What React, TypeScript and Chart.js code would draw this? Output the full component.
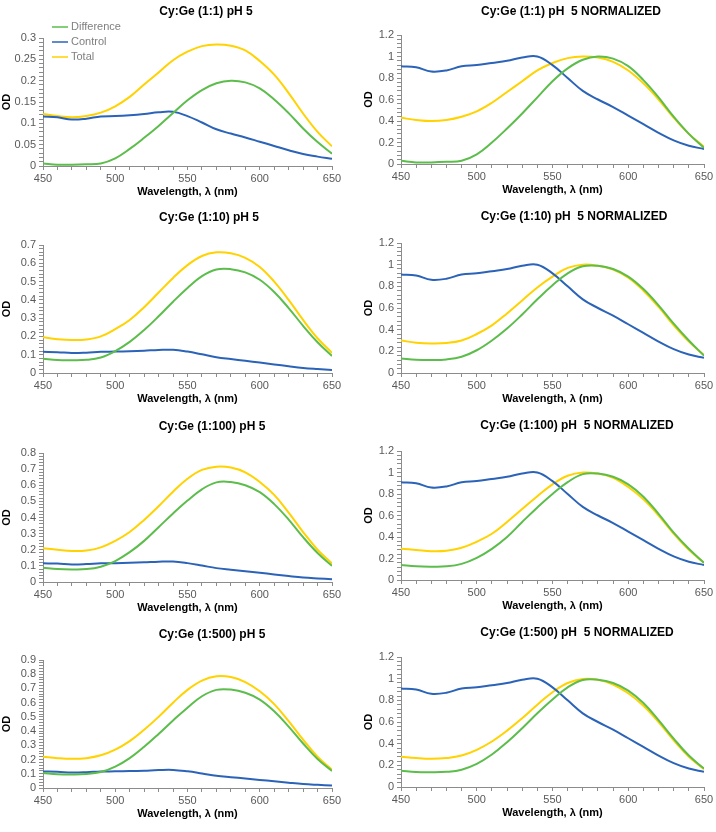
import React, { useEffect, useRef } from "react";
import { Chart, registerables } from "chart.js";

Chart.register(...registerables);

// ---------- data ----------
const wavelengths = [450, 460, 470, 480, 490, 500, 510, 520, 530, 540, 550, 560, 570, 580, 590, 600, 610, 620, 630, 640, 650];

const controlRaw = [0.116, 0.114, 0.109, 0.111, 0.116, 0.117, 0.119, 0.122, 0.126, 0.127, 0.117, 0.102, 0.086, 0.076, 0.067, 0.057, 0.047, 0.037, 0.028, 0.022, 0.017];
const controlNorm = [0.91, 0.90, 0.86, 0.87, 0.91, 0.92, 0.94, 0.96, 0.99, 1.0, 0.92, 0.80, 0.68, 0.60, 0.53, 0.45, 0.37, 0.29, 0.22, 0.17, 0.14];

const diff1 = [0.006, 0.003, 0.003, 0.004, 0.006, 0.018, 0.040, 0.066, 0.094, 0.124, 0.154, 0.178, 0.194, 0.200, 0.196, 0.182, 0.156, 0.124, 0.088, 0.056, 0.029];
const total1 = [0.122, 0.117, 0.114, 0.117, 0.125, 0.140, 0.162, 0.191, 0.219, 0.248, 0.268, 0.281, 0.285, 0.282, 0.271, 0.246, 0.214, 0.171, 0.123, 0.080, 0.046];
const diff1Norm = [0.03, 0.015, 0.015, 0.02, 0.03, 0.09, 0.20, 0.33, 0.47, 0.62, 0.77, 0.89, 0.97, 1.0, 0.98, 0.91, 0.78, 0.62, 0.44, 0.28, 0.15];
const total1Norm = [0.43, 0.41, 0.40, 0.41, 0.44, 0.49, 0.57, 0.67, 0.77, 0.87, 0.94, 0.985, 1.0, 0.99, 0.95, 0.87, 0.75, 0.60, 0.43, 0.28, 0.16];

const diff10 = [0.078, 0.071, 0.07, 0.072, 0.085, 0.12, 0.17, 0.235, 0.31, 0.39, 0.465, 0.53, 0.566, 0.568, 0.55, 0.51, 0.443, 0.355, 0.258, 0.168, 0.093];
const total10 = [0.195, 0.185, 0.18, 0.183, 0.20, 0.24, 0.29, 0.36, 0.44, 0.52, 0.59, 0.64, 0.66, 0.655, 0.63, 0.58, 0.50, 0.40, 0.29, 0.19, 0.11];
const diff10Norm = [0.135, 0.123, 0.12, 0.125, 0.15, 0.21, 0.30, 0.41, 0.54, 0.68, 0.81, 0.92, 0.985, 0.99, 0.96, 0.89, 0.775, 0.625, 0.455, 0.30, 0.16];
const total10Norm = [0.30, 0.28, 0.273, 0.277, 0.30, 0.36, 0.44, 0.55, 0.67, 0.79, 0.89, 0.97, 1.0, 0.99, 0.955, 0.88, 0.76, 0.61, 0.44, 0.29, 0.165];

const diff100 = [0.088, 0.08, 0.078, 0.08, 0.095, 0.13, 0.185, 0.255, 0.34, 0.425, 0.505, 0.575, 0.618, 0.62, 0.6, 0.557, 0.483, 0.387, 0.278, 0.18, 0.10];
const total100 = [0.21, 0.20, 0.192, 0.195, 0.215, 0.255, 0.31, 0.385, 0.47, 0.56, 0.64, 0.695, 0.715, 0.71, 0.68, 0.62, 0.54, 0.43, 0.31, 0.20, 0.115];
const diff100Norm = [0.14, 0.127, 0.124, 0.127, 0.15, 0.206, 0.29, 0.40, 0.54, 0.675, 0.80, 0.91, 0.985, 0.99, 0.96, 0.89, 0.775, 0.615, 0.44, 0.29, 0.16];
const total100Norm = [0.29, 0.28, 0.268, 0.272, 0.30, 0.356, 0.43, 0.54, 0.66, 0.78, 0.89, 0.97, 1.0, 0.99, 0.95, 0.865, 0.75, 0.60, 0.43, 0.28, 0.16];

const diff500 = [0.105, 0.097, 0.095, 0.098, 0.112, 0.15, 0.21, 0.29, 0.38, 0.475, 0.565, 0.645, 0.69, 0.692, 0.67, 0.622, 0.54, 0.432, 0.313, 0.204, 0.12];
const total500 = [0.22, 0.21, 0.205, 0.21, 0.23, 0.27, 0.33, 0.41, 0.50, 0.60, 0.69, 0.755, 0.785, 0.78, 0.745, 0.68, 0.59, 0.47, 0.34, 0.22, 0.13];
const diff500Norm = [0.15, 0.138, 0.136, 0.14, 0.16, 0.214, 0.30, 0.414, 0.543, 0.68, 0.807, 0.92, 0.988, 0.99, 0.96, 0.89, 0.775, 0.617, 0.447, 0.29, 0.17];
const total500Norm = [0.28, 0.267, 0.26, 0.267, 0.29, 0.343, 0.42, 0.52, 0.635, 0.76, 0.875, 0.96, 0.997, 0.99, 0.946, 0.865, 0.75, 0.60, 0.43, 0.28, 0.165];

const seriesNames = ["Difference", "Control", "Total"];
const seriesColors = ["#5cbd4c", "#2b63b8", "#ffd200"];

const FONT = "'Liberation Sans', Arial, sans-serif";

type Panel = {
  title: string;
  series: number[][];
  yMax: number;
  yStep: number;
  left: number;
  top: number;
  width: number;
  height: number;
  plotTop: number;
  plotBottom: number;
  plotRight: number;
  yAxisW: number;
  ytitlePad: number;
  titleX: number;
  titleY: number;
  legend?: boolean;
};

const L = { left: 0, width: 356, plotRight: 332, yAxisW: 43, ytitlePad: 0 };
const R = { left: 356, width: 360, plotRight: 348, yAxisW: 45, ytitlePad: 6 };

// titleX / titleY in page coordinates
const panels: Panel[] = [
  { ...L, title: "Cy:Ge (1:1) pH 5", series: [diff1, controlRaw, total1], yMax: 0.3, yStep: 0.05, top: 0, height: 205, plotTop: 38, plotBottom: 166, titleX: 206, titleY: 12, legend: true },
  { ...R, title: "Cy:Ge (1:1) pH  5 NORMALIZED", series: [diff1Norm, controlNorm, total1Norm], yMax: 1.2, yStep: 0.2, top: 0, height: 205, plotTop: 35, plotBottom: 164, titleX: 571, titleY: 12 },
  { ...L, title: "Cy:Ge (1:10) pH 5", series: [diff10, controlRaw, total10], yMax: 0.7, yStep: 0.1, top: 205, height: 208, plotTop: 245, plotBottom: 373, titleX: 209, titleY: 218 },
  { ...R, title: "Cy:Ge (1:10) pH  5 NORMALIZED", series: [diff10Norm, controlNorm, total10Norm], yMax: 1.2, yStep: 0.2, top: 205, height: 208, plotTop: 243, plotBottom: 373, titleX: 574, titleY: 217 },
  { ...L, title: "Cy:Ge (1:100) pH 5", series: [diff100, controlRaw, total100], yMax: 0.8, yStep: 0.1, top: 413, height: 207, plotTop: 453, plotBottom: 582, titleX: 212, titleY: 427 },
  { ...R, title: "Cy:Ge (1:100) pH  5 NORMALIZED", series: [diff100Norm, controlNorm, total100Norm], yMax: 1.2, yStep: 0.2, top: 413, height: 207, plotTop: 451, plotBottom: 580, titleX: 577, titleY: 426 },
  { ...L, title: "Cy:Ge (1:500) pH 5", series: [diff500, controlRaw, total500], yMax: 0.9, yStep: 0.1, top: 620, height: 212, plotTop: 660, plotBottom: 788, titleX: 212, titleY: 635 },
  { ...R, title: "Cy:Ge (1:500) pH  5 NORMALIZED", series: [diff500Norm, controlNorm, total500Norm], yMax: 1.2, yStep: 0.2, top: 620, height: 212, plotTop: 657, plotBottom: 787, titleX: 577, titleY: 633 },
];

const X_AXIS_H = 33;

const titlePlugin = {
  id: "panelTitle",
  afterDraw(chart: any, _args: any, opts: any) {
    if (!opts || !opts.text) return;
    const ctx = chart.ctx;
    ctx.save();
    ctx.font = `bold 12px ${FONT}`;
    ctx.fillStyle = "#000000";
    ctx.textAlign = "center";
    ctx.textBaseline = "middle";
    ctx.fillText(opts.text, opts.x, opts.y);
    ctx.restore();
  },
};

const legendPlugin = {
  id: "refLegend",
  afterDraw(chart: any, _args: any, opts: any) {
    if (!opts || !opts.show) return;
    const ctx = chart.ctx;
    ctx.save();
    ctx.font = `11px ${FONT}`;
    ctx.textBaseline = "middle";
    ctx.textAlign = "left";
    chart.data.datasets.forEach((ds: any, i: number) => {
      const y = opts.y0 + i * opts.dy;
      ctx.strokeStyle = ds.borderColor;
      ctx.lineWidth = 1.5;
      ctx.beginPath();
      ctx.moveTo(opts.x0, y);
      ctx.lineTo(opts.x0 + 16, y);
      ctx.stroke();
      ctx.fillStyle = "#7f7f7f";
      ctx.fillText(ds.label, opts.x0 + 19, y);
    });
    ctx.restore();
  },
};

function isMajor(v: number, step: number) {
  const r = v / step;
  return Math.abs(r - Math.round(r)) < 1e-6;
}

function PanelChart({ p }: { p: Panel }) {
  const ref = useRef<HTMLCanvasElement | null>(null);
  useEffect(() => {
    if (!ref.current) return;
    const padTop = p.plotTop - p.top;
    const padBottom = p.height - (p.plotBottom - p.top) - X_AXIS_H;
    const chart = new Chart(ref.current, {
      type: "line",
      data: {
        datasets: p.series.map((vals, i) => ({
          label: seriesNames[i],
          data: wavelengths.map((w, j) => ({ x: w, y: vals[j] })),
          borderColor: seriesColors[i],
          backgroundColor: seriesColors[i],
          borderWidth: 2,
          pointRadius: 0,
          fill: false,
          tension: 0.4,
        })),
      },
      options: {
        responsive: false,
        animation: false,
        events: [],
        layout: { padding: { left: 0, right: p.width - p.plotRight, top: padTop, bottom: padBottom } },
        plugins: {
          legend: { display: false },
          tooltip: { enabled: false },
          title: { display: false },
          panelTitle: { text: p.title, x: p.titleX - p.left, y: p.titleY - p.top },
          refLegend: { show: !!p.legend, x0: 52, y0: 27, dy: 15 },
        } as any,
        scales: {
          x: {
            type: "linear",
            min: 450,
            max: 650,
            afterFit: (s: any) => { s.height = X_AXIS_H; },
            ticks: {
              stepSize: 10,
              autoSkip: false,
              maxRotation: 0,
              padding: 2,
              color: "#595959",
              font: { family: FONT, size: 11 },
              callback: (v: any) => (isMajor(Number(v), 50) ? String(Math.round(v)) : ""),
            },
            grid: { drawOnChartArea: false, drawTicks: true, tickLength: 4, tickColor: "#8c8c8c" },
            border: { display: true, color: "#8c8c8c", width: 1 },
            title: {
              display: true,
              text: "Wavelength, λ (nm)",
              color: "#000000",
              font: { family: FONT, size: 11, weight: "bold" },
              padding: { top: 0, bottom: 0 },
            },
          },
          y: {
            type: "linear",
            min: 0,
            max: p.yMax,
            afterFit: (s: any) => { s.width = p.yAxisW; },
            ticks: {
              stepSize: p.yStep / 5,
              autoSkip: false,
              padding: 3,
              color: "#595959",
              font: { family: FONT, size: 11 },
              callback: (v: any) => (isMajor(Number(v), p.yStep) ? String(parseFloat(Number(v).toFixed(2))) : ""),
            },
            grid: { drawOnChartArea: false, drawTicks: true, tickLength: 4, tickColor: "#8c8c8c" },
            border: { display: true, color: "#8c8c8c", width: 1 },
            title: {
              display: true,
              text: "OD",
              color: "#000000",
              font: { family: FONT, size: 11, weight: "bold" },
              padding: { top: p.ytitlePad, bottom: 0 },
            },
          },
        },
      },
      plugins: [titlePlugin, legendPlugin],
    });
    return () => chart.destroy();
  }, [p]);
  return (
    <canvas
      ref={ref}
      width={p.width}
      height={p.height}
      style={{ position: "absolute", left: p.left, top: p.top, width: p.width, height: p.height }}
    />
  );
}

export default function App() {
  return (
    <div style={{ position: "absolute", left: 0, top: 0, width: 716, height: 832, background: "#ffffff" }}>
      {panels.map((p, i) => (
        <PanelChart key={i} p={p} />
      ))}
    </div>
  );
}
